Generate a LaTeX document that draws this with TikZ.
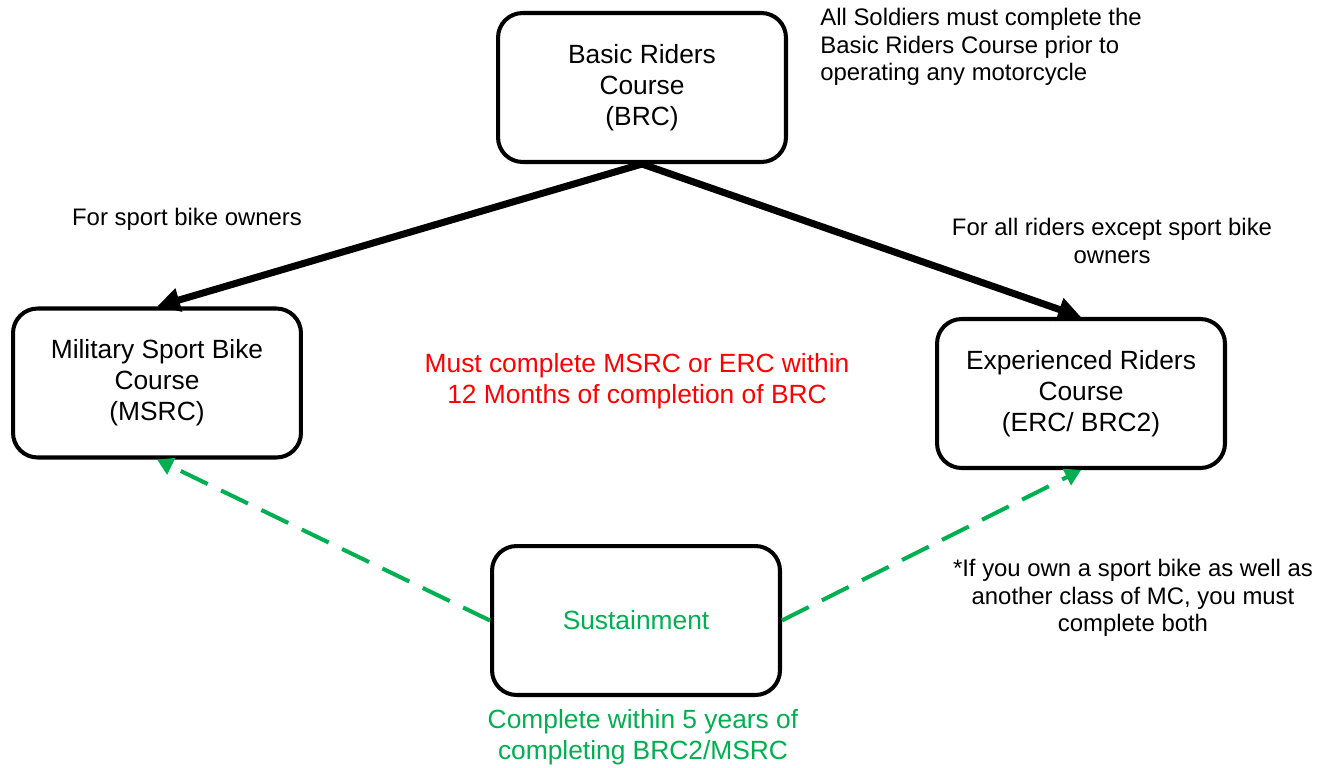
\documentclass[tikz,border=0pt]{standalone}
\usepackage{fontspec}
\setmainfont{Liberation Sans}
\usetikzlibrary{arrows.meta}
\definecolor{mcgreen}{RGB}{0,176,80}
\definecolor{mcred}{RGB}{255,0,0}
\tikzset{
  course/.style={draw, line width=2.3pt, rounded corners=14pt, minimum width=5.76cm, minimum height=2.98cm, align=center, inner sep=0pt, font=\fontsize{15}{17.6}\selectfont},
  remark/.style={align=center, inner sep=0pt, font=\fontsize{13.6}{15.6}\selectfont},
  bigremark/.style={align=center, inner sep=0pt, font=\fontsize{15}{17.6}\selectfont},
  solidpath/.style={line width=4pt, -{Triangle[length=13pt,width=13pt]}},
  greenpath/.style={mcgreen, line width=2.3pt, dash pattern=on 17pt off 8.5pt, -{Triangle[length=9pt,width=10pt]}}
}
\begin{document}
\begin{tikzpicture}[x=0.02cm,y=-0.02cm]
\useasboundingbox (0,0) rectangle (1341,767);

\draw
	(642,87.5) node[course] (brc) {Basic Riders\\Course\\(BRC)}
	(157,383) node[course] (msrc) {Military Sport Bike\\Course\\(MSRC)}
	(1081,393.5) node[course] (erc) {Experienced Riders\\Course\\(ERC/ BRC2)}
	(636,620.5) node[course, text=mcgreen] (sust) {Sustainment};

\draw
	(820,47) node[remark, anchor=west, align=left] (allnote) {All Soldiers must complete the\\Basic Riders Course prior to\\operating any motorcycle}
	(187,219) node[remark] (sportnote) {For sport bike owners}
	(1112,241) node[remark] (allriders) {For all riders except sport bike\\owners}
	(1133,598) node[remark] (bothnote) {*If you own a sport bike as well as\\another class of MC, you must\\complete both}
	(637,381) node[bigremark, text=mcred] (within12) {Must complete MSRC or ERC within\\12 Months of completion of BRC}
	(643,737) node[bigremark, text=mcgreen] (within5) {Complete within 5 years of\\completing BRC2/MSRC};

\draw[solidpath] (brc.south) -- (msrc.north);
\draw[solidpath] (brc.south) -- (erc.north);

\draw[greenpath] (sust.west) -- (msrc.south);
\draw[greenpath] (sust.east) -- (erc.south);
\end{tikzpicture}
\end{document}
